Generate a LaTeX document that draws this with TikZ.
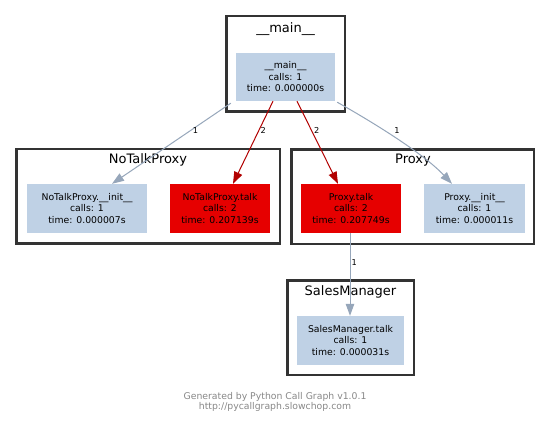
\documentclass[tikz,border=0pt]{standalone}
\usepackage{fontspec}
\setmainfont{DejaVu Sans}
\usetikzlibrary{arrows.meta}
\definecolor{nodeblue}{RGB}{191,209,229}
\definecolor{nodered}{RGB}{230,0,0}
\definecolor{edgegray}{RGB}{150,166,186}
\definecolor{edgered}{RGB}{178,0,0}
\definecolor{clusterline}{RGB}{51,51,51}
\definecolor{footgray}{RGB}{136,136,136}
\begin{document}
\begin{tikzpicture}[x=1pt,y=-1pt,
  cluster/.style={draw=clusterline, line width=2.5pt, fill=white, rectangle, inner sep=0pt},
  ctitle/.style={inner sep=0pt, font=\fontsize{13}{15}\selectfont},
  fn/.style={rectangle, inner sep=0pt, align=center, minimum height=49pt, font=\fontsize{9.3}{11.5}\selectfont},
  fnblue/.style={fn, fill=nodeblue},
  fnred/.style={fn, fill=nodered},
  lbl/.style={inner sep=0pt, font=\fontsize{8.2}{9.5}\selectfont},
  gedge/.style={draw=edgegray, line width=1pt, -{Triangle[length=12pt,width=8.5pt]}},
  redge/.style={draw=edgered, line width=1pt, -{Triangle[length=12pt,width=8.5pt]}},
  foot/.style={inner sep=0pt, align=center, text=footgray, font=\fontsize{9.3}{10.7}\selectfont}
]
\useasboundingbox (0,0) rectangle (551,425);
\fill[white] (0,0) rectangle (551,425);

% clusters
\node[cluster, minimum width=118.5pt, minimum height=95.5pt] (cMain) at (285.5,64) {};
\node[cluster, minimum width=263.5pt, minimum height=94.5pt] (cNTP) at (148,196) {};
\node[cluster, minimum width=242.5pt, minimum height=94.5pt] (cProxy) at (412.5,196.5) {};
\node[cluster, minimum width=126.5pt, minimum height=94.5pt] (cSM) at (350.5,327.5) {};

\node[ctitle] (tMain) at (285.5,29) {\_\_main\_\_};
\node[ctitle] (tNTP) at (148,160) {NoTalkProxy};
\node[ctitle] (tProxy) at (413,160) {Proxy};
\node[ctitle] (tSM) at (350.5,292) {SalesManager};

% function nodes
\node[fnblue, minimum width=99pt, minimum height=48pt] (mainN) at (285.5,77) {\_\_main\_\_\\calls: 1\\time: 0.000000s};
\node[fnblue, minimum width=120pt] (ntpInit) at (87,208.5) {NoTalkProxy.\_\_init\_\_\\calls: 1\\time: 0.000007s};
\node[fnred, minimum width=100pt] (ntpTalk) at (220,208.5) {NoTalkProxy.talk\\calls: 2\\time: 0.207139s};
\node[fnred, minimum width=100pt] (pTalk) at (351,208.5) {Proxy.talk\\calls: 2\\time: 0.207749s};
\node[fnblue, minimum width=101pt] (pInit) at (474.5,208.5) {Proxy.\_\_init\_\_\\calls: 1\\time: 0.000011s};
\node[fnblue, minimum width=107pt] (smTalk) at (350.5,340.5) {SalesManager.talk\\calls: 1\\time: 0.000031s};

% edges
\draw[gedge] ([shift={(-5,2)}]mainN.south west) -- node[lbl, pos=0.34, right=2pt] (l1) {1} ([shift={(25,0)}]ntpInit.north);
\draw[redge] ([shift={(-12.5,0)}]mainN.south) -- node[lbl, pos=0.357, right=1.5pt] (l2) {2} ([shift={(13,0)}]ntpTalk.north);
\draw[redge] ([shift={(11.5,0)}]mainN.south) -- node[lbl, pos=0.357, right=2pt] (l3) {2} ([shift={(-13,0)}]pTalk.north);
\draw[gedge] ([shift={(2,1)}]mainN.south east) .. controls (360,115) and (420,150) .. ([shift={(-22.5,0)}]pInit.north)
  node[lbl] (l4) at (397,131) {1};
\draw[gedge] ([shift={(-1,0)}]pTalk.south) -- node[lbl, pos=0.35, right=1pt] (l5) {1} ([shift={(-0.5,0)}]smTalk.north);

% footer
\node[foot] (footer) at (275,402) {Generated by Python Call Graph v1.0.1\\http://pycallgraph.slowchop.com};
\end{tikzpicture}
\end{document}
